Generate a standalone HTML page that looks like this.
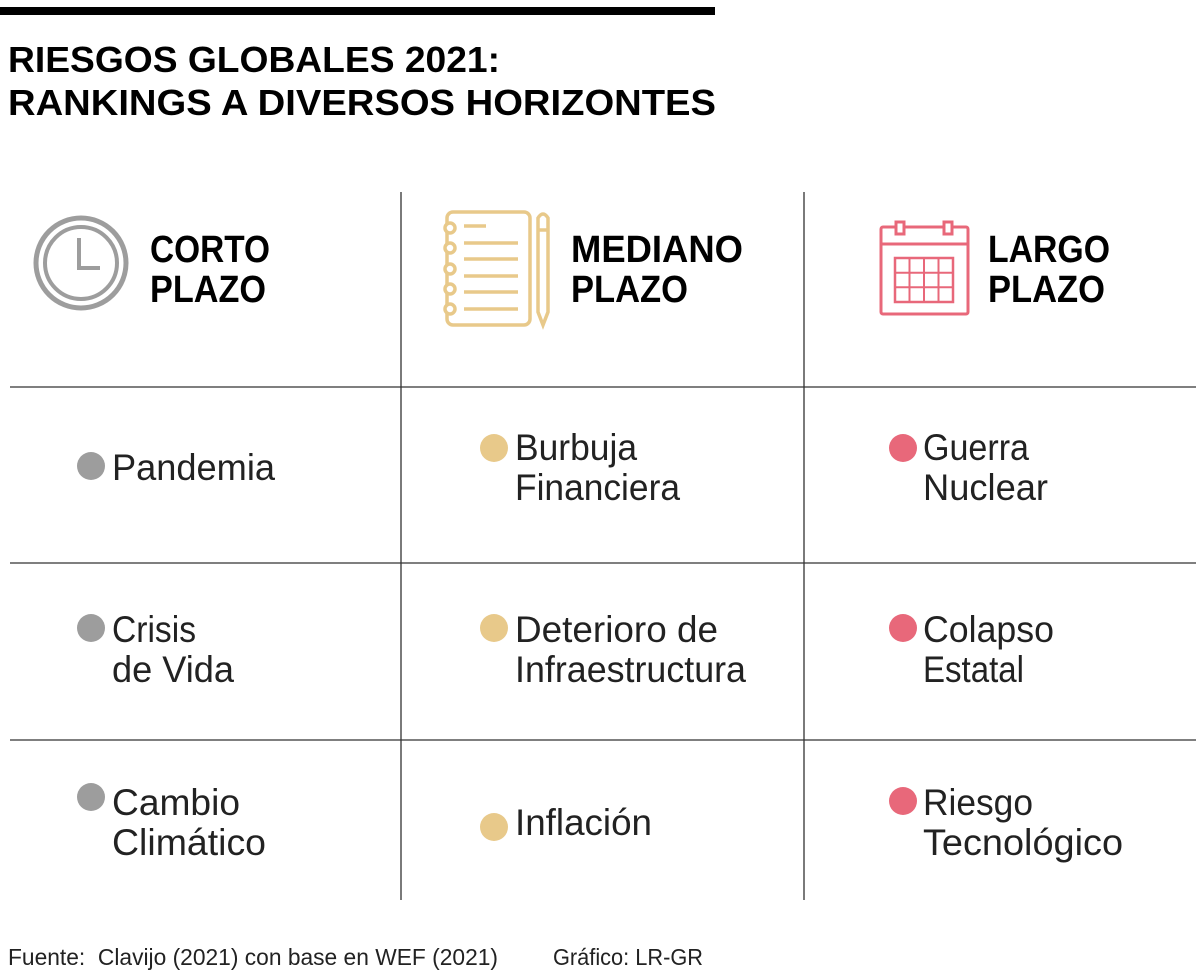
<!DOCTYPE html>
<html><head><meta charset="utf-8"><style>html,body{margin:0;padding:0;background:#fff}svg{display:block}text{font-family:"Liberation Sans",sans-serif}</style></head>
<body>
<svg width="1200" height="972" viewBox="0 0 1200 972">
<rect x="0" y="7" width="715" height="8" fill="#000"/>
<g font-weight="bold" font-size="36" fill="#000">
<text x="8" y="72" textLength="492" lengthAdjust="spacingAndGlyphs">RIESGOS GLOBALES 2021:</text>
<text x="8" y="115" textLength="708" lengthAdjust="spacingAndGlyphs">RANKINGS A DIVERSOS HORIZONTES</text>
</g>
<g stroke="#333" stroke-width="1.3">
<line x1="401" y1="192" x2="401" y2="900"/><line x1="804" y1="192" x2="804" y2="900"/>
<line x1="10" y1="387" x2="1196" y2="387"/><line x1="10" y1="563" x2="1196" y2="563"/><line x1="10" y1="740" x2="1196" y2="740"/>
</g>
<g fill="none" stroke="#9d9d9d">
<circle cx="81" cy="263" r="45" stroke-width="5"/><circle cx="81" cy="263" r="36" stroke-width="4"/>
<line x1="79" y1="238" x2="79" y2="270" stroke-width="4"/><line x1="79" y1="268" x2="100" y2="268" stroke-width="4"/>
</g>
<g fill="none" stroke="#e8c98a" stroke-width="3.5">
<rect x="447" y="212" width="83" height="113" rx="6"/>
<circle cx="450" cy="228" r="5" fill="#fff"/><circle cx="450" cy="248" r="5" fill="#fff"/><circle cx="450" cy="269" r="5" fill="#fff"/><circle cx="450" cy="289" r="5" fill="#fff"/><circle cx="450" cy="309" r="5" fill="#fff"/>
<line x1="464" y1="226" x2="486" y2="226"/><line x1="464" y1="243" x2="518" y2="243"/><line x1="464" y1="259" x2="518" y2="259"/><line x1="464" y1="276" x2="518" y2="276"/><line x1="464" y1="292" x2="518" y2="292"/><line x1="464" y1="309" x2="518" y2="309"/>
<path d="M538 218 Q543 210 548 218 L548 312 L543 325 L538 312 Z"/><line x1="538" y1="230" x2="548" y2="230"/>
</g>
<g fill="none" stroke="#e8687a" stroke-width="3">
<rect x="881" y="227" width="87" height="87" rx="2"/><line x1="881" y1="244" x2="968" y2="244"/>
<rect x="896" y="222" width="8" height="12" fill="#fff"/><rect x="944" y="222" width="8" height="12" fill="#fff"/>
<rect x="895" y="258" width="58" height="44" stroke-width="2.5"/>
<line x1="909.5" y1="258" x2="909.5" y2="302" stroke-width="2"/><line x1="924" y1="258" x2="924" y2="302" stroke-width="2"/><line x1="938.5" y1="258" x2="938.5" y2="302" stroke-width="2"/>
<line x1="895" y1="272.7" x2="953" y2="272.7" stroke-width="2"/><line x1="895" y1="287.3" x2="953" y2="287.3" stroke-width="2"/>
</g>
<g font-weight="bold" font-size="38" fill="#000">
<text x="150" y="262" textLength="120" lengthAdjust="spacingAndGlyphs">CORTO</text>
<text x="150" y="302" textLength="116" lengthAdjust="spacingAndGlyphs">PLAZO</text>
<text x="571" y="262" textLength="172" lengthAdjust="spacingAndGlyphs">MEDIANO</text>
<text x="571" y="302" textLength="117" lengthAdjust="spacingAndGlyphs">PLAZO</text>
<text x="988" y="262" textLength="122" lengthAdjust="spacingAndGlyphs">LARGO</text>
<text x="988" y="302" textLength="117" lengthAdjust="spacingAndGlyphs">PLAZO</text>
</g>
<g>
<circle cx="91" cy="466" r="14" fill="#9d9d9d"/><circle cx="91" cy="628" r="14" fill="#9d9d9d"/><circle cx="91" cy="797" r="14" fill="#9d9d9d"/>
<circle cx="494" cy="448" r="14" fill="#e8c98a"/><circle cx="494" cy="628" r="14" fill="#e8c98a"/><circle cx="494" cy="827" r="14" fill="#e8c98a"/>
<circle cx="903" cy="448" r="14" fill="#e8687a"/><circle cx="903" cy="628" r="14" fill="#e8687a"/><circle cx="903" cy="801" r="14" fill="#e8687a"/>
</g>
<g font-size="37" fill="#222">
<text x="112" y="480" textLength="163" lengthAdjust="spacingAndGlyphs">Pandemia</text>
<text x="515" y="460" textLength="122" lengthAdjust="spacingAndGlyphs">Burbuja</text>
<text x="515" y="500" textLength="165" lengthAdjust="spacingAndGlyphs">Financiera</text>
<text x="923" y="460" textLength="106" lengthAdjust="spacingAndGlyphs">Guerra</text>
<text x="923" y="500" textLength="125" lengthAdjust="spacingAndGlyphs">Nuclear</text>
<text x="112" y="642" textLength="84" lengthAdjust="spacingAndGlyphs">Crisis</text>
<text x="112" y="682" textLength="122" lengthAdjust="spacingAndGlyphs">de Vida</text>
<text x="515" y="642" textLength="203" lengthAdjust="spacingAndGlyphs">Deterioro de</text>
<text x="515" y="682" textLength="231" lengthAdjust="spacingAndGlyphs">Infraestructura</text>
<text x="923" y="642" textLength="131" lengthAdjust="spacingAndGlyphs">Colapso</text>
<text x="923" y="682" textLength="101" lengthAdjust="spacingAndGlyphs">Estatal</text>
<text x="112" y="815" textLength="128" lengthAdjust="spacingAndGlyphs">Cambio</text>
<text x="112" y="855" textLength="154" lengthAdjust="spacingAndGlyphs">Climático</text>
<text x="515" y="835" textLength="137" lengthAdjust="spacingAndGlyphs">Inflación</text>
<text x="923" y="815" textLength="110" lengthAdjust="spacingAndGlyphs">Riesgo</text>
<text x="923" y="855" textLength="200" lengthAdjust="spacingAndGlyphs">Tecnológico</text>
</g>
<g font-size="23" fill="#222">
<text x="8" y="965" textLength="490" lengthAdjust="spacingAndGlyphs" xml:space="preserve">Fuente:  Clavijo (2021) con base en WEF (2021)</text>
<text x="553" y="965" textLength="150" lengthAdjust="spacingAndGlyphs">Gráfico: LR-GR</text>
</g>
</svg>
</body></html>
